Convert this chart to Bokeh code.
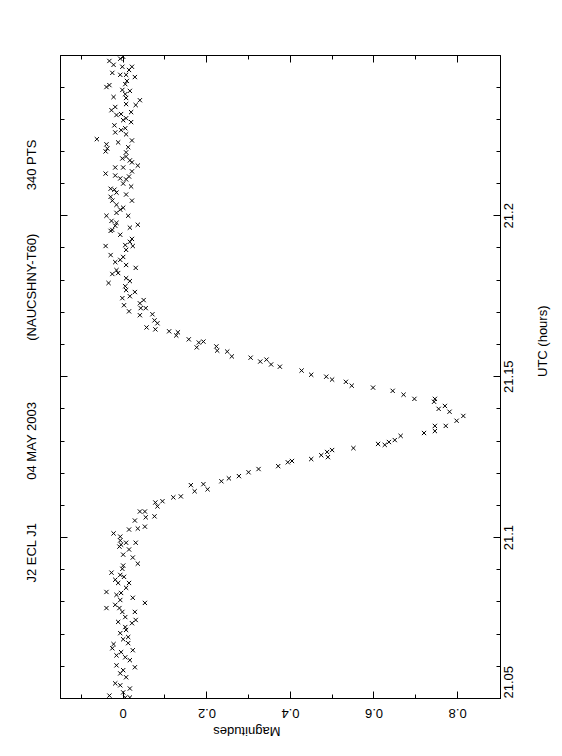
from math import pi
from bokeh.plotting import figure
from bokeh.models import Range1d, LinearAxis, FixedTicker, CustomJSTickFormatter
from bokeh.embed import file_html
from bokeh.resources import INLINE

# ---- data (UTC hours, magnitudes) ----
utc_pre = [21.0503, 21.0503, 21.0509, 21.0519, 21.0531, 21.0541, 21.0547, 21.0566, 21.0578, 21.0588,
           21.0597, 21.0603, 21.0619, 21.0628, 21.0634, 21.0644, 21.0650, 21.0656, 21.0669, 21.0672,
           21.0684, 21.0691, 21.0703, 21.0713, 21.0722, 21.0734, 21.0738, 21.0744, 21.0753, 21.0769,
           21.0769, 21.0781, 21.0781, 21.0791, 21.0797, 21.0806, 21.0813, 21.0822, 21.0828, 21.0831,
           21.0844, 21.0859, 21.0859, 21.0869, 21.0878, 21.0884, 21.0891, 21.0903, 21.0913, 21.0919,
           21.0938, 21.0947, 21.0963, 21.0972, 21.0978, 21.0984, 21.0984, 21.0991, 21.1003, 21.1013]
mag_pre = [0.016, 0.005, -0.033, 0.000, 0.016, -0.007, -0.019, 0.007, -0.007, 0.000,
           0.028, -0.016, 0.016, 0.005, -0.016, -0.005, 0.023, -0.026, -0.023, 0.012,
           0.000, 0.012, -0.007, 0.007, 0.005, 0.021, -0.012, 0.030, 0.005, -0.002,
           0.028, -0.040, -0.009, -0.019, 0.052, -0.007, 0.023, -0.016, -0.005, -0.040,
           0.007, -0.012, 0.014, -0.019, 0.002, -0.007, -0.028, -0.002, 0.000, 0.035,
           0.023, 0.000, 0.014, -0.009, -0.005, 0.030, 0.007, -0.007, -0.007, -0.023]

utc_ecl = [21.1025, 21.1028, 21.1034, 21.1053, 21.1063, 21.1066, 21.1081, 21.1081, 21.1097, 21.1109,
           21.1113, 21.1125, 21.1128, 21.1144, 21.1150, 21.1163, 21.1166, 21.1175, 21.1184, 21.1191,
           21.1203, 21.1213, 21.1222, 21.1234, 21.1238, 21.1244, 21.1250, 21.1256, 21.1266, 21.1272,
           21.1278, 21.1288, 21.1291, 21.1297, 21.1303, 21.1316, 21.1325, 21.1331, 21.1347, 21.1347,
           21.1363, 21.1378, 21.1391, 21.1400, 21.1409, 21.1422, 21.1431, 21.1431, 21.1444, 21.1456,
           21.1466, 21.1472, 21.1484, 21.1491, 21.1500, 21.1506, 21.1519, 21.1531, 21.1538, 21.1547,
           21.1553, 21.1559, 21.1563, 21.1578, 21.1581, 21.1591, 21.1594, 21.1606, 21.1609, 21.1616,
           21.1628, 21.1638, 21.1641, 21.1647, 21.1653, 21.1666, 21.1675, 21.1691, 21.1694, 21.1703,
           21.1713, 21.1713, 21.1722, 21.1728]
mag_ecl = [0.014, 0.035, 0.052, 0.028, 0.054, 0.075, 0.052, 0.040, 0.082, 0.077,
           0.094, 0.120, 0.138, 0.171, 0.202, 0.162, 0.192, 0.235, 0.253, 0.277,
           0.300, 0.324, 0.371, 0.394, 0.404, 0.450, 0.490, 0.474, 0.488, 0.500,
           0.551, 0.626, 0.610, 0.636, 0.650, 0.664, 0.720, 0.746, 0.772, 0.746,
           0.798, 0.814, 0.781, 0.755, 0.770, 0.744, 0.697, 0.746, 0.671, 0.645,
           0.598, 0.547, 0.533, 0.500, 0.486, 0.450, 0.427, 0.375, 0.354, 0.328,
           0.343, 0.305, 0.260, 0.249, 0.225, 0.176, 0.223, 0.181, 0.192, 0.157,
           0.127, 0.131, 0.110, 0.077, 0.056, 0.082, 0.075, 0.040, 0.070, 0.014,
           0.042, 0.054, 0.002, 0.040]

utc_post = [21.1738, 21.1744, 21.1750, 21.1763, 21.1769, 21.1781, 21.1791, 21.1797, 21.1806, 21.1819,
            21.1822, 21.1831, 21.1838, 21.1847, 21.1856, 21.1863, 21.1872, 21.1878, 21.1894, 21.1906,
            21.1906, 21.1909, 21.1919, 21.1928, 21.1941, 21.1953, 21.1956, 21.1963, 21.1969, 21.1972,
            21.1978, 21.1984, 21.2000, 21.2000, 21.2009, 21.2019, 21.2025, 21.2034, 21.2047, 21.2047,
            21.2059, 21.2066, 21.2072, 21.2081, 21.2084, 21.2091, 21.2100, 21.2113, 21.2116, 21.2122,
            21.2125, 21.2131, 21.2138, 21.2150, 21.2150, 21.2156, 21.2166, 21.2172, 21.2178, 21.2184,
            21.2197, 21.2200, 21.2209, 21.2213, 21.2222, 21.2228, 21.2234, 21.2238, 21.2253, 21.2259,
            21.2266, 21.2272, 21.2281, 21.2291, 21.2297, 21.2303, 21.2313, 21.2316, 21.2322, 21.2328,
            21.2338, 21.2344, 21.2347, 21.2359, 21.2366, 21.2369, 21.2378, 21.2388, 21.2391, 21.2400,
            21.2406, 21.2409, 21.2419, 21.2431, 21.2438, 21.2438, 21.2444, 21.2453, 21.2463, 21.2463,
            21.2469, 21.2481, 21.2488, 21.2494]
mag_post = [0.049, -0.002, 0.016, 0.028, 0.007, 0.005, -0.035, 0.016, 0.007, -0.026,
            -0.012, -0.016, 0.030, 0.007, -0.019, -0.007, 0.000, -0.030, 0.007, 0.023,
            -0.042, 0.005, 0.016, 0.021, -0.007, -0.030, -0.026, 0.016, -0.019, 0.035,
            -0.016, -0.028, -0.040, 0.012, -0.016, -0.007, 0.000, -0.016, 0.021, -0.026,
            -0.030, 0.007, -0.016, -0.021, -0.030, 0.019, 0.000, 0.007, -0.007, 0.014,
            -0.019, -0.042, 0.021, -0.019, 0.000, 0.035, 0.021, 0.016, -0.002, 0.007,
            0.007, -0.042, -0.038, 0.012, -0.040, -0.012, 0.021, -0.063, 0.007, -0.019,
            -0.005, 0.005, -0.021, 0.019, 0.000, 0.007, -0.016, -0.005, 0.019, -0.028,
            -0.019, 0.030, 0.007, 0.040, 0.007, -0.023, 0.005, 0.016, -0.002, -0.040,
            -0.033, 0.005, 0.009, 0.028, -0.007, 0.007, -0.026, 0.014, -0.002, 0.021,
            -0.023, -0.033, -0.007, 0.000]

mag_major = [0, 0.2, 0.4, 0.6, 0.8]
mag_minor = [-0.1, 0.1, 0.3, 0.5, 0.7]
mag_labels = ["0", "0.2", "0.4", "0.6", "0.8"]
utc_major = [21.05, 21.1, 21.15, 21.2]
utc_minor = [21.06, 21.07, 21.08, 21.09, 21.11, 21.12, 21.13, 21.14,
             21.16, 21.17, 21.18, 21.19, 21.21, 21.22, 21.23, 21.24]
utc_labels = ["21.05", "21.1", "21.15", "21.2"]

title_parts = ["J2 ECL J1", "04 MAY 2003", "(NAUCSHNY-T60)", "340 PTS"]
NB = "\u00a0"
title_text = (NB * 9 + title_parts[0] + NB * 12 + title_parts[1] + NB * 17 +
              title_parts[2] + NB * 12 + title_parts[3])

FONT = "'Liberation Sans', Arial, sans-serif"
LABEL_PX = 13

X0, X1 = -0.15, 0.903
Y0, Y1 = 21.05, 21.2498
FRAME_W, FRAME_H = 449, 643

p = figure(width=560, height=754,
           x_range=Range1d(X0, X1), y_range=Range1d(Y0, Y1),
           output_backend="svg", toolbar_location=None,
           x_axis_location="below", y_axis_location="right",
           title=title_text, title_location="left",
           min_border_left=56, min_border_right=55,
           min_border_top=55, min_border_bottom=56)

p.background_fill_color = "white"
p.border_fill_color = "white"
p.outline_line_color = "black"
p.outline_line_width = 1
p.xgrid.visible = False
p.ygrid.visible = False

p.title.text_font = FONT
p.title.text_font_size = "13px"
p.title.text_font_style = "normal"
p.title.text_color = "black"
p.title.align = "center"
p.title.standoff = 43

mag_ticker = FixedTicker(ticks=mag_major, minor_ticks=mag_minor)
utc_ticker = FixedTicker(ticks=utc_major, minor_ticks=utc_minor)
blank = CustomJSTickFormatter(code="return '';")


def tick_axis(ax, ticker):
    ax.ticker = ticker
    ax.formatter = blank
    ax.axis_line_color = "black"
    ax.major_tick_line_color = "black"
    ax.minor_tick_line_color = "black"
    ax.major_tick_in = 7
    ax.major_tick_out = 0
    ax.minor_tick_in = 4
    ax.minor_tick_out = 0
    ax.major_label_standoff = 0


def text_width(s):
    # approximate rendered width of a numeric label (Liberation Sans metrics)
    return LABEL_PX * sum(0.278 if c == "." else 0.556 for c in s)


def label_axis(positions, labels, orientation, standoff):
    # axis that only carries text: rotated labels are shifted so each is centred on its tick
    ax = LinearAxis(ticker=FixedTicker(ticks=positions, minor_ticks=[]),
                    formatter=CustomJSTickFormatter(
                        args=dict(pos=positions, labels=labels),
                        code="""
let best = 0;
for (let i = 0; i < pos.length; i++) {
  if (Math.abs(pos[i] - tick) < Math.abs(pos[best] - tick)) best = i;
}
return labels[best];"""))
    ax.axis_line_color = None
    ax.major_tick_line_color = None
    ax.minor_tick_line_color = None
    ax.major_tick_in = 0
    ax.major_tick_out = 0
    ax.major_label_orientation = orientation
    ax.major_label_standoff = standoff
    ax.major_label_text_font = FONT
    ax.major_label_text_font_size = f"{LABEL_PX}px"
    ax.major_label_text_color = "black"
    ax.axis_label_text_font = FONT
    ax.axis_label_text_font_size = "13px"
    ax.axis_label_text_font_style = "normal"
    ax.axis_label_text_color = "black"
    return ax


# axes with ticks (PGPLOT-style box, ticks inside on all four sides)
tick_axis(p.xaxis[0], mag_ticker)
tick_axis(p.yaxis[0], utc_ticker)
top = LinearAxis()
tick_axis(top, mag_ticker)
p.add_layout(top, "above")
left = LinearAxis()
tick_axis(left, utc_ticker)
p.add_layout(left, "left")

# text-only axes (label positions kept inside the visible range)
px_per_mag = FRAME_W / (X1 - X0)
px_per_hr = FRAME_H / (Y1 - Y0)
mag_pos = [max(X0, t - text_width(s) / 2 / px_per_mag) for t, s in zip(mag_major, mag_labels)]
utc_pos = [max(Y0, t - text_width(s) / 2 / px_per_hr) for t, s in zip(utc_major, utc_labels)]

xlab = label_axis(mag_pos, mag_labels, pi, 15)
xlab.axis_label = "Magnitudes"
try:
    xlab.axis_label_orientation = -pi
except Exception:
    pass
xlab.axis_label_standoff = 6
p.add_layout(xlab, "below")

ylab = label_axis(utc_pos, utc_labels, pi / 2, 8)
ylab.axis_label = "UTC" + NB + "(hours)"
try:
    ylab.axis_label_orientation = pi / 2
except Exception:
    pass
ylab.axis_label_standoff = 22
p.add_layout(ylab, "right")

for u, m in ((utc_pre, mag_pre), (utc_ecl, mag_ecl), (utc_post, mag_post)):
    p.scatter(x=m, y=u, marker="x", size=6, line_color="black", line_width=1)

open("out.html", "w").write(file_html(p, INLINE))
